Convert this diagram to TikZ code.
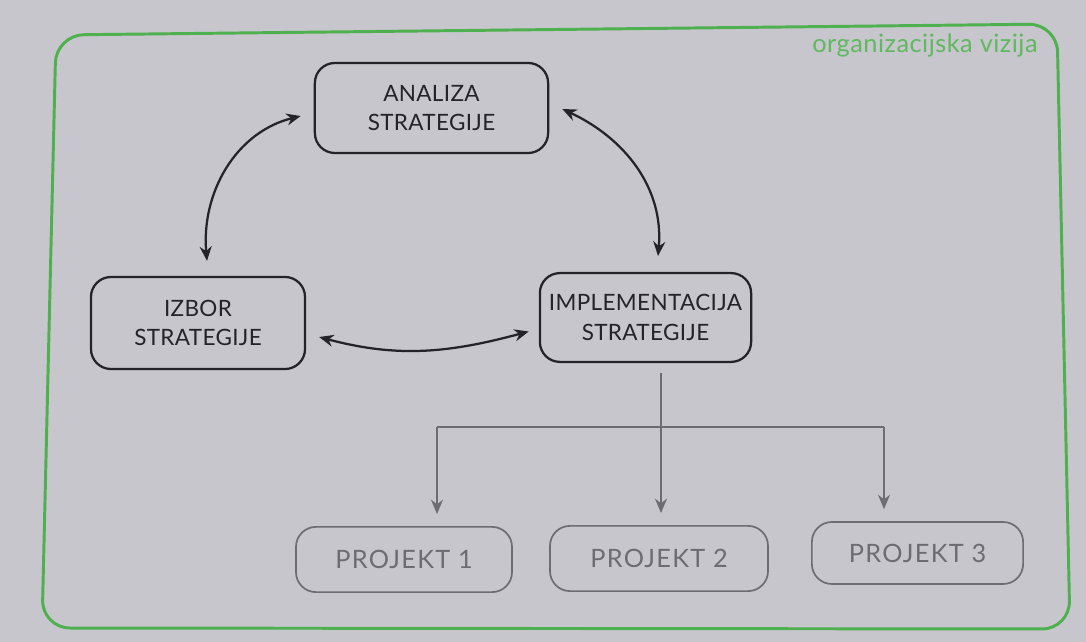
\documentclass[tikz,border=0pt]{standalone}
\usepackage{fontspec}
\setmainfont{Lato}
\usetikzlibrary{arrows.meta}
\usetikzlibrary{calc}
\usetikzlibrary{positioning}

\definecolor{paper}{RGB}{199,198,204}
\definecolor{vizija}{RGB}{78,176,78}
\definecolor{ink}{RGB}{35,35,40}
\definecolor{pale}{RGB}{108,108,114}

\tikzset{
  stratbox/.style={draw=ink, line width=1.6pt, rounded corners=0.5cm, align=center,
    inner sep=0pt, text=ink, font=\fontsize{16}{21}\selectfont\addfontfeature{LetterSpace=1.5}},
  projbox/.style={draw=pale, line width=1.2pt, rounded corners=0.5cm,
    text=pale, font=\fontsize{18}{21}\selectfont\addfontfeature{LetterSpace=5},
    minimum width=5.4cm, minimum height=1.63cm},
  link/.style={<->, draw=ink, line width=1.6pt},
  branch/.style={draw=pale, line width=1.2pt},
}

\begin{document}
\begin{tikzpicture}[x=0.025cm,y=0.025cm,>={Stealth[length=0.36cm,width=0.3cm]}]
    \def\R{0.7cm}
    \useasboundingbox (0,0) rectangle (1086,-642);
    \fill[paper] (0,0) rectangle (1086,-642);

    % FRAME
    \draw[vizija, line width=2.1pt, rounded corners=\R]
      (56,-35) -- (1057,-24) -- (1070,-629) -- (42,-628) -- cycle;
    \node[text=vizija!90!white, font=\fontsize{18}{21}\selectfont\addfontfeature{LetterSpace=2}] (naslov) at (925,-45) {organizacijska vizija};

    % STRATEGIJA
    \node[stratbox, minimum width=5.83cm, minimum height=2.25cm] (analiza) at (431.5,-108) {ANALIZA\\STRATEGIJE};
    \node[stratbox, minimum width=5.35cm, minimum height=2.3cm] (izbor) at (198,-323) {IZBOR\\STRATEGIJE};
    \node[stratbox, minimum width=5.28cm, minimum height=2.22cm] (impl) at (645.5,-317.5) {IMPLEMENTACIJA\\STRATEGIJE};

    \draw[link] ($(analiza.west)+(-13,-8)$) to[out=194,in=95] ($(izbor.north)+(9,15)$);
    \draw[link] ($(analiza.east)+(13,-1)$) to[out=-25,in=85] ($(impl.north)+(12.5,16)$);
    \draw[link] ($(izbor.east)+(13,-14)$) to[out=-15,in=195] ($(impl.west)+(-10,-14)$);

    % PROJEKTI
    \node[projbox] (p1) at (404,-559.5) {PROJEKT 1};
    \node[projbox, minimum width=5.45cm] (p2) at (659,-558.5) {PROJEKT 2};
    \node[projbox, minimum width=5.28cm, minimum height=1.55cm] (p3) at (917.5,-553) {PROJEKT 3};

    \coordinate (top) at ($(impl.south)+(15.5,-10)$);
    \coordinate (b1) at (437,-427);
    \coordinate (b3) at (884,-427);
    \draw[branch] (b1) -- (b3);
    \draw[branch, ->, shorten >=0.3cm] (top) -- (top |- p2.north);
    \draw[branch, ->, shorten >=0.3cm] (b1) -- (b1 |- p1.north);
    \draw[branch, ->, shorten >=0.3cm] (b3) -- (b3 |- p3.north);
  \end{tikzpicture}
\end{document}
